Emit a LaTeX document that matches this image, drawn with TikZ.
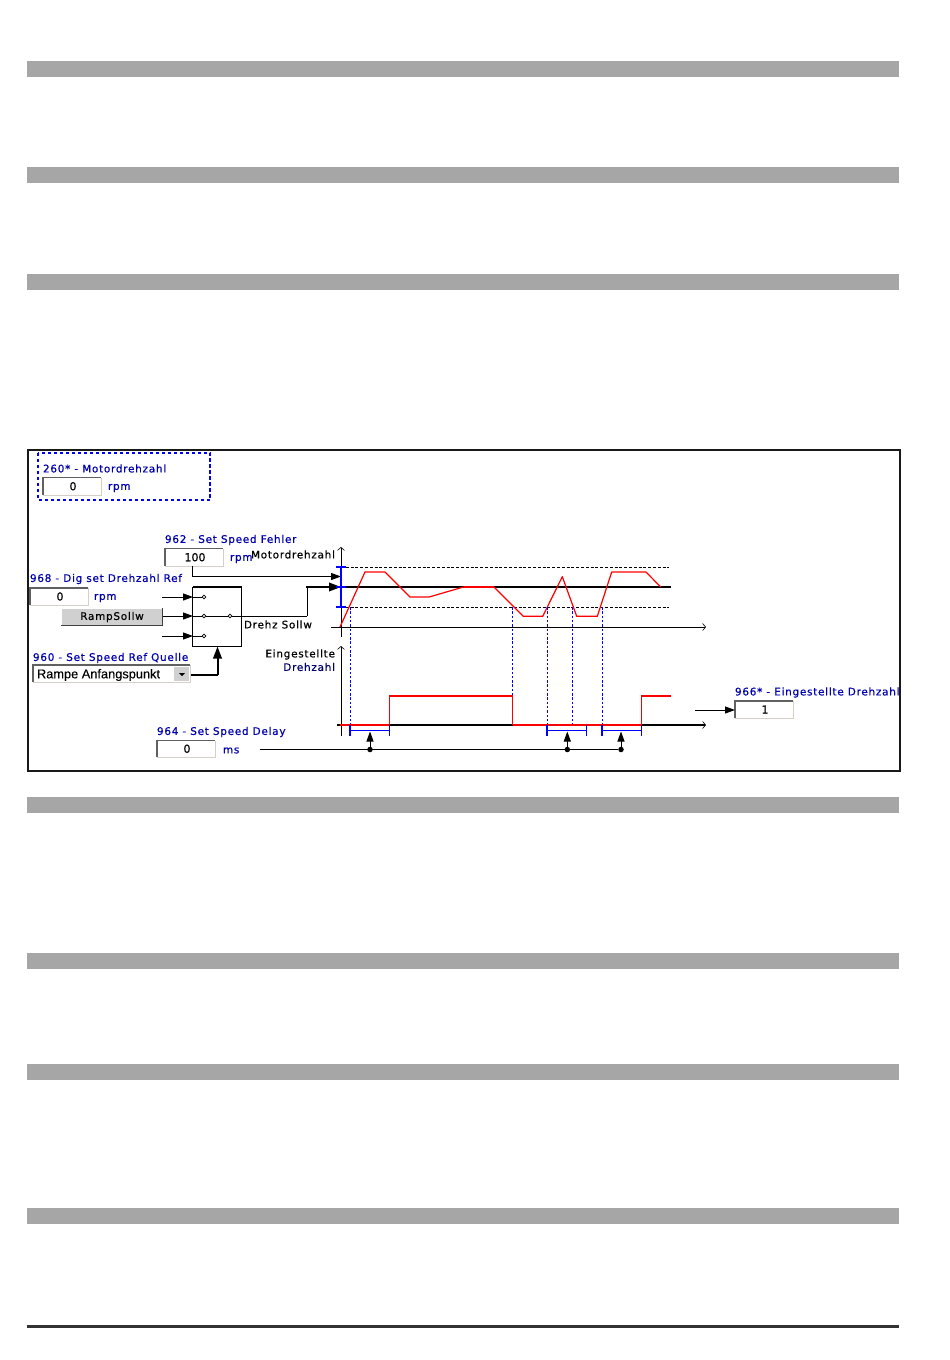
\documentclass[tikz,border=0pt]{standalone}
\usepackage{fontspec}
\setmainfont{DejaVu Sans}
\newfontfamily\lblfont[LetterSpace=7,FakeBold=0.5]{DejaVu Sans}
\newfontfamily\valfont[FakeBold=0.5]{DejaVu Sans}
\newfontfamily\cmbfont[FakeBold=0.1]{Liberation Sans}
\usetikzlibrary{arrows.meta}
\definecolor{barc}{HTML}{A6A6A6}
\definecolor{lab}{HTML}{0000B0}
\definecolor{fieldlight}{HTML}{D4D0C8}
\definecolor{fielddark}{HTML}{606060}
\definecolor{btn}{HTML}{D0D0D0}
\definecolor{redl}{HTML}{FF0000}
\definecolor{bluel}{HTML}{0000FF}
\tikzset{
  x=1pt,y=-1pt,
  every node/.style={inner sep=0pt,outer sep=0pt},
  bar/.style={fill=barc,draw=none},
  lbl/.style={font=\lblfont\fontsize{10.45}{11}\selectfont,text=lab,anchor=west},
  blk/.style={font=\lblfont\fontsize{10.45}{11}\selectfont,text=black,anchor=west},
  lblr/.style={font=\lblfont\fontsize{10.45}{11}\selectfont,anchor=east},
  val/.style={font=\valfont\fontsize{11}{12}\selectfont,text=black,xshift=1pt},
  wire/.style={draw=black,line width=1pt},
  tip/.style={-{Triangle[length=10pt,width=7pt]}},
  bigtip/.style={-{Triangle[length=12pt,width=8.5pt]}},
  opentip/.style={-{Straight Barb[length=3pt,width=7pt,line width=.6pt]}},
  sw/.style={circle,draw=black,fill=white,line width=.7pt,minimum size=3.6pt},
  dot/.style={circle,fill=black,minimum size=5.5pt},
  red/.style={draw=redl,line width=1.2pt},
  blu/.style={draw=bluel,line width=1.4pt},
  bdash/.style={draw=bluel,line width=1pt,dash pattern=on 2.5pt off 1.8pt},
  kdash/.style={draw=black,line width=1pt,dash pattern=on 3pt off 1.8pt},
}
\newcommand{\fieldbox}[6]{% name,x1,y1,x2,y2,text
  \fill[white] (#2,#3) rectangle (#4,#5);
  \draw[fieldlight,line width=1pt] (#4,#3) -- (#4,#5) -- (#2,#5);
  \draw[fielddark,line width=1.2pt] (#2,#5) -- (#2,#3) -- (#4,#3);
  \node[val] (#1) at ({(#2+#4)/2},{(#3+#5)/2}) {#6};
}
\begin{document}
\begin{tikzpicture}
\useasboundingbox (0,0) rectangle (950,1360);
\fill[white] (0,0) rectangle (950,1360);
% grey bars
\foreach \y in {61,167,274,797,953,1064,1208}
  \fill[bar] (27,\y) rectangle (899,\y+16);
\draw[draw=black!80,line width=2.5pt] (27,1326.5) -- (899,1326.5);
% frame
\draw[draw=black!90,line width=2pt] (28,449.5) rectangle (900,771);
% motor box
\draw[bluel,line width=2pt,dash pattern=on 3.5pt off 2.5pt] (38,452.5) rectangle (210,500);
\node[lbl] (l260) at (43,468.5) {260* - Motordrehzahl};
\fieldbox{f260}{43}{477.5}{101}{495}{0}
\node[lbl] (u260) at (108,488) {rpm};
% 962
\node[lbl] (l962) at (165,540) {962 - Set Speed Fehler};
\fieldbox{f962}{165}{548.5}{223}{566}{100}
\node[lbl] (u962) at (230,559) {rpm};
\node[blk] (tm) at (251,554.5) {Motordrehzahl};
% 968
\node[lbl] (l968) at (30,579) {968 - Dig set Drehzahl Ref};
\fieldbox{f968}{30}{588}{88}{605}{0}
\node[lbl] (u968) at (94,598) {rpm};
% button
\fill[btn] (61,608) rectangle (162,625);
\draw[black!75,line width=1pt] (61,625) -- (162,625) -- (162,608);
\draw[white,line width=1pt] (61,625) -- (61,608) -- (162,608);
\node[font=\lblfont\fontsize{10.45}{11}\selectfont] (ramp) at (112,617) {RampSollw};
% switch block
\node[draw=black,line width=1pt,minimum width=49pt,minimum height=59pt] (swb) at (217,616.5) {};
\draw[black,line width=2pt] (swb.north west) -- (swb.north east);
\coordinate (a1) at (162,597); \coordinate (a2) at (162.5,616); \coordinate (a3) at (162,636);
\coordinate (b1) at (193,597); \coordinate (b2) at (193,616); \coordinate (b3) at (193,636);
\node[sw] (s1) at (204,597) {};
\node[sw] (s2) at (204,616) {};
\node[sw] (s3) at (204,636) {};
\node[sw] (s4) at (230,616) {};
\draw[wire,tip] (a1) -- (b1);
\draw[wire,tip] (a2) -- (b2);
\draw[wire,tip] (a3) -- (b3);
\draw[wire] (b1) -- (s1);
\draw[wire] (b2) -- (s2);
\draw[wire] (b3) -- (s3);
\draw[wire] (s2) -- (s4);
\node[blk] (tds) at (244,624.5) {Drehz Sollw};
% axes coordinates
\coordinate (t1) at (341,576.5);
\coordinate (t2) at (341,587);
\coordinate (turn) at (307,616);
\draw[wire] (s4) -- (turn);
\draw[wire] (turn) -- (307,587);
\draw[draw=black,line width=2pt,bigtip] (306,587) -- (t2);
\draw[wire,tip] (192,566) -- (192,576.5) -- (t1);
% 960
\node[lbl] (l960) at (33,658) {960 - Set Speed Ref Quelle};
\fill[white] (33,665) rectangle (190,682);
\draw[fieldlight,line width=1pt] (190,665) -- (190,682) -- (33,682);
\draw[fielddark,line width=1.2pt] (33,682) -- (33,665) -- (190,665);
\node[anchor=west,font=\cmbfont\fontsize{12.8}{14}\selectfont] (t960) at (37,675) {Rampe Anfangspunkt};
\fill[btn] (174,667) rectangle (189,681);
\fill[black] (179,673) -- (185,673) -- (182,676) -- cycle;
\coordinate (c960) at (190.5,675);
\coordinate (c960b) at (217.5,675);
\coordinate (c960t) at (217.5,646.5);
\draw[draw=black,line width=1.2pt] (c960) -- (c960b);
\draw[draw=black,line width=2pt,bigtip] (c960b) -- (c960t);
% labels axis2
\node[lblr,text=black] (te1) at (335,654.5) {Eingestellte};
\node[lblr,text=lab!60!black] (te2) at (335,667) {Drehzahl};
% chart 1
\draw[kdash] (341,567.5) -- (669,567.5);
\draw[kdash] (341,607.5) -- (669,607.5);
\draw[wire,opentip] (341,637) -- (341,547);
\draw[wire,opentip] (331,627) -- (706,627);
\draw[blu] (336,567) -- (346,567);
\draw[blu] (336,607) -- (346,607);
\draw[blu] (341,567) -- (341,607);
\draw[draw=black,line width=2.6pt] (336,587) -- (671,587);
\draw[blu] (336,587) -- (346,587);
\draw[draw=redl,line width=2.4pt] (463.5,586.8) -- (494,586.8);
\draw[red,line join=round] (340,627) -- (365,572) -- (385,572) -- (410,597) -- (429,597) -- (463.5,587) -- (494,587) -- (523.3,616.3) -- (542.7,616.3) -- (562.3,576.7) -- (576.7,616.3) -- (597.3,616.3) -- (611.7,572) -- (646,572) -- (660.7,587);
% dashed verticals
\draw[bdash] (350.5,607) -- (350.5,725);
\draw[bdash] (512.5,607) -- (512.5,696);
\draw[bdash] (547.5,607) -- (547.5,725);
\draw[bdash] (572.5,607) -- (572.5,724);
\draw[bdash] (602.5,607) -- (602.5,725);
% chart 2
\draw[wire,opentip] (341,736) -- (341,646);
\draw[draw=black,line width=2pt] (337,725) -- (705,725);
\draw[wire,opentip] (700,725) -- (706,725);
\draw[draw=redl,line width=2.6pt] (340,725) -- (389.5,725);
\draw[draw=redl,line width=2.6pt] (512.7,725) -- (641.3,725);
\draw[red] (389.5,725) -- (389.5,696) -- (512.7,696) -- (512.7,725);
\draw[red] (641.3,725) -- (641.3,696) -- (670.7,696);
% brackets
\draw[blu] (350,725) -- (350,736) (350,730.7) -- (389.5,730.7) (389.5,725) -- (389.5,736);
\draw[blu] (547,725) -- (547,736) (547,730.7) -- (586.7,730.7) (586.7,725) -- (586.7,736);
\draw[blu] (602,725) -- (602,736) (602,730.7) -- (641.3,730.7) (641.3,725) -- (641.3,736);
% 964
\node[lbl] (l964) at (157,732) {964 - Set Speed Delay};
\fieldbox{f964}{157}{740.5}{215}{757}{0}
\node[lbl] (u964) at (223,750.5) {ms};
\coordinate (d0) at (259.5,749.5);
\node[dot] (d1) at (370,749.5) {};
\node[dot] (d2) at (567.3,749.5) {};
\node[dot] (d3) at (621,749.5) {};
\coordinate (u1) at (370,731.5); \coordinate (u2) at (567.3,731.5); \coordinate (u3) at (621,731.5);
\draw[wire] (d0) -- (d3);
\draw[wire,tip] (d1) -- (u1);
\draw[wire,tip] (d2) -- (u2);
\draw[wire,tip] (d3) -- (u3);
% 966
\node[lbl] (l966) at (735,692.5) {966* - Eingestellte Drehzahl};
\fieldbox{f966}{735}{701}{793}{718}{1}
\coordinate (c966) at (695,710);
\coordinate (c966b) at (735,710);
\draw[wire,tip] (c966) -- (c966b);
\end{tikzpicture}
\end{document}
